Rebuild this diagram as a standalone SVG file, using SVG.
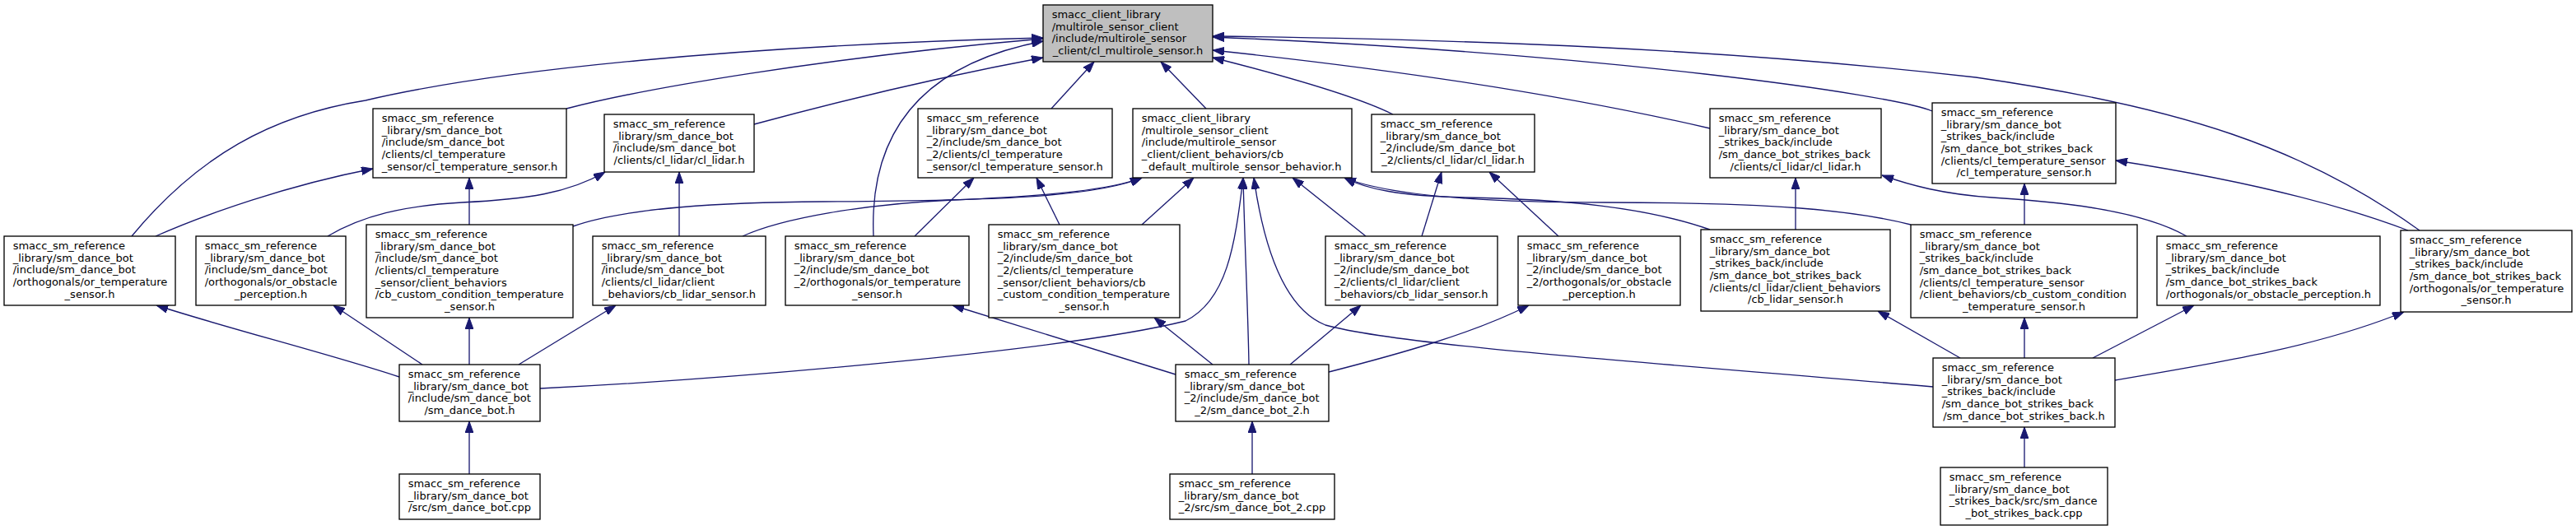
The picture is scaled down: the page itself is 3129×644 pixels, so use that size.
<svg xmlns="http://www.w3.org/2000/svg" width="3129" height="644" viewBox="0 0 3129 644">
<style>
.n rect{fill:#fff;stroke:#000;stroke-width:1.33}
.root rect{fill:#bfbfbf}
text{font-family:"DejaVu Sans","Liberation Sans",sans-serif;font-size:13px;fill:#000}
.c{text-anchor:middle}
#edges path{fill:none;stroke:#191970;stroke-width:1.33;marker-end:url(#a)}
</style>
<defs>
<marker id="a" markerUnits="userSpaceOnUse" markerWidth="14" markerHeight="10" viewBox="0 0 14 10" refX="14" refY="5" orient="auto">
<path d="M0,0 L14,5 L0,10 z" fill="#191970" stroke="#191970" stroke-width="1"/>
</marker>
</defs>
<rect width="3129" height="644" fill="#fff"/>
<g id="edges">
<path d="M160,287 C240,190 330,140 444,122 C600,85 900,55 1267,46"/>
<path d="M688,132 C780,108 1000,70 1267,47"/>
<path d="M1061,287 C1056,170 1110,80 1267,50"/>
<path d="M916,151 C1030,120 1150,92 1267,70"/>
<path d="M1277,132 L1329,75"/>
<path d="M1465,132 L1410,75"/>
<path d="M1692,139 C1650,118 1560,92 1473,70"/>
<path d="M2077,156 C1900,115 1700,85 1473,61"/>
<path d="M2347,135 C2300,115 1950,65 1473,45"/>
<path d="M2939,280 C2800,180 2650,130 2400,94 C2100,60 1800,48 1473,44"/>
<path d="M570,273 L570,216"/>
<path d="M189,287 C250,260 350,225 453,205"/>
<path d="M398,287 C440,262 490,250 561,246 C640,242 690,235 735,209"/>
<path d="M825,287 L825,209"/>
<path d="M1111,287 L1183,216"/>
<path d="M1287,273 L1259,216"/>
<path d="M696,275 C760,252 880,246 1000,245 C1200,244 1330,240 1387,216"/>
<path d="M902,287 C950,265 1050,248 1157,243 C1280,238 1350,230 1387,216"/>
<path d="M1387,273 L1450,216"/>
<path d="M656,472 C900,460 1300,425 1440,390 C1490,365 1500,300 1510,216"/>
<path d="M1517,443 C1516,380 1512,300 1510,216"/>
<path d="M2348,470 C2000,440 1700,420 1610,395 C1560,375 1535,300 1523,216"/>
<path d="M1659,287 L1570,216"/>
<path d="M2077,279 C2000,252 1900,242 1780,240 C1700,238 1660,230 1633,216"/>
<path d="M2321,273 C2250,255 2150,246 1950,246 C1780,246 1680,235 1633,216"/>
<path d="M1727,287 L1751,209"/>
<path d="M1893,287 L1809,209"/>
<path d="M2181,279 L2181,216"/>
<path d="M2656,287 C2600,255 2500,245 2420,240 C2360,236 2320,225 2286,213"/>
<path d="M2459,273 L2459,223"/>
<path d="M2925,280 C2820,240 2680,212 2570,195"/>
<path d="M485,458 C400,430 280,400 190,371"/>
<path d="M513,443 L405,371"/>
<path d="M570,443 L570,386"/>
<path d="M630,443 L748,371"/>
<path d="M570,576 L570,512"/>
<path d="M1428,455 L1157,371"/>
<path d="M1473,443 L1402,386"/>
<path d="M1567,443 L1653,371"/>
<path d="M1614,452 C1700,430 1790,405 1857,371"/>
<path d="M1521,576 L1521,512"/>
<path d="M2381,435 L2281,378"/>
<path d="M2459,435 L2459,386"/>
<path d="M2542,435 L2665,371"/>
<path d="M2569,462 C2700,440 2820,420 2920,379"/>
<path d="M2459,568 L2459,519"/>
</g>
<g id="root" class="n root"><rect x="1267" y="6" width="206" height="69"/><text y="22"><tspan x="1277.7">smacc_client_library</tspan><tspan x="1277.7" dy="14.67">/multirole_sensor_client</tspan><tspan x="1277.7" dy="14.67">/include/multirole_sensor</tspan><tspan x="1370" dy="14.67" class="c">_client/cl_multirole_sensor.h</tspan></text></g>
<g id="nA" class="n"><rect x="453" y="132" width="235" height="84"/><text y="148"><tspan x="463.7">smacc_sm_reference</tspan><tspan x="463.7" dy="14.67">_library/sm_dance_bot</tspan><tspan x="463.7" dy="14.67">/include/sm_dance_bot</tspan><tspan x="463.7" dy="14.67">/clients/cl_temperature</tspan><tspan x="570.5" dy="14.67" class="c">_sensor/cl_temperature_sensor.h</tspan></text></g>
<g id="nB" class="n"><rect x="734" y="139" width="182" height="70"/><text y="155"><tspan x="744.7">smacc_sm_reference</tspan><tspan x="744.7" dy="14.67">_library/sm_dance_bot</tspan><tspan x="744.7" dy="14.67">/include/sm_dance_bot</tspan><tspan x="825" dy="14.67" class="c">/clients/cl_lidar/cl_lidar.h</tspan></text></g>
<g id="nC" class="n"><rect x="1115" y="132" width="236" height="84"/><text y="148"><tspan x="1125.7">smacc_sm_reference</tspan><tspan x="1125.7" dy="14.67">_library/sm_dance_bot</tspan><tspan x="1125.7" dy="14.67">_2/include/sm_dance_bot</tspan><tspan x="1125.7" dy="14.67">_2/clients/cl_temperature</tspan><tspan x="1233" dy="14.67" class="c">_sensor/cl_temperature_sensor.h</tspan></text></g>
<g id="nD" class="n"><rect x="1376" y="132" width="266" height="84"/><text y="148"><tspan x="1386.7">smacc_client_library</tspan><tspan x="1386.7" dy="14.67">/multirole_sensor_client</tspan><tspan x="1386.7" dy="14.67">/include/multirole_sensor</tspan><tspan x="1386.7" dy="14.67">_client/client_behaviors/cb</tspan><tspan x="1509" dy="14.67" class="c">_default_multirole_sensor_behavior.h</tspan></text></g>
<g id="nE" class="n"><rect x="1666" y="139" width="198" height="70"/><text y="155"><tspan x="1676.7">smacc_sm_reference</tspan><tspan x="1676.7" dy="14.67">_library/sm_dance_bot</tspan><tspan x="1676.7" dy="14.67">_2/include/sm_dance_bot</tspan><tspan x="1765" dy="14.67" class="c">_2/clients/cl_lidar/cl_lidar.h</tspan></text></g>
<g id="nF" class="n"><rect x="2077" y="132" width="208" height="84"/><text y="148"><tspan x="2087.7">smacc_sm_reference</tspan><tspan x="2087.7" dy="14.67">_library/sm_dance_bot</tspan><tspan x="2087.7" dy="14.67">_strikes_back/include</tspan><tspan x="2087.7" dy="14.67">/sm_dance_bot_strikes_back</tspan><tspan x="2181" dy="14.67" class="c">/clients/cl_lidar/cl_lidar.h</tspan></text></g>
<g id="nG" class="n"><rect x="2347" y="125" width="223" height="98"/><text y="141"><tspan x="2357.7">smacc_sm_reference</tspan><tspan x="2357.7" dy="14.67">_library/sm_dance_bot</tspan><tspan x="2357.7" dy="14.67">_strikes_back/include</tspan><tspan x="2357.7" dy="14.67">/sm_dance_bot_strikes_back</tspan><tspan x="2357.7" dy="14.67">/clients/cl_temperature_sensor</tspan><tspan x="2458.5" dy="14.67" class="c">/cl_temperature_sensor.h</tspan></text></g>
<g id="nH" class="n"><rect x="5" y="287" width="208" height="84"/><text y="303"><tspan x="15.7">smacc_sm_reference</tspan><tspan x="15.7" dy="14.67">_library/sm_dance_bot</tspan><tspan x="15.7" dy="14.67">/include/sm_dance_bot</tspan><tspan x="15.7" dy="14.67">/orthogonals/or_temperature</tspan><tspan x="109" dy="14.67" class="c">_sensor.h</tspan></text></g>
<g id="nI" class="n"><rect x="238" y="287" width="182" height="84"/><text y="303"><tspan x="248.7">smacc_sm_reference</tspan><tspan x="248.7" dy="14.67">_library/sm_dance_bot</tspan><tspan x="248.7" dy="14.67">/include/sm_dance_bot</tspan><tspan x="248.7" dy="14.67">/orthogonals/or_obstacle</tspan><tspan x="329" dy="14.67" class="c">_perception.h</tspan></text></g>
<g id="nJ" class="n"><rect x="445" y="273" width="251" height="113"/><text y="289"><tspan x="455.7">smacc_sm_reference</tspan><tspan x="455.7" dy="14.67">_library/sm_dance_bot</tspan><tspan x="455.7" dy="14.67">/include/sm_dance_bot</tspan><tspan x="455.7" dy="14.67">/clients/cl_temperature</tspan><tspan x="455.7" dy="14.67">_sensor/client_behaviors</tspan><tspan x="455.7" dy="14.67">/cb_custom_condition_temperature</tspan><tspan x="570.5" dy="14.67" class="c">_sensor.h</tspan></text></g>
<g id="nK" class="n"><rect x="720" y="287" width="210" height="84"/><text y="303"><tspan x="730.7">smacc_sm_reference</tspan><tspan x="730.7" dy="14.67">_library/sm_dance_bot</tspan><tspan x="730.7" dy="14.67">/include/sm_dance_bot</tspan><tspan x="730.7" dy="14.67">/clients/cl_lidar/client</tspan><tspan x="825" dy="14.67" class="c">_behaviors/cb_lidar_sensor.h</tspan></text></g>
<g id="nL" class="n"><rect x="954" y="287" width="223" height="84"/><text y="303"><tspan x="964.7">smacc_sm_reference</tspan><tspan x="964.7" dy="14.67">_library/sm_dance_bot</tspan><tspan x="964.7" dy="14.67">_2/include/sm_dance_bot</tspan><tspan x="964.7" dy="14.67">_2/orthogonals/or_temperature</tspan><tspan x="1065.5" dy="14.67" class="c">_sensor.h</tspan></text></g>
<g id="nM" class="n"><rect x="1201" y="273" width="232" height="113"/><text y="289"><tspan x="1211.7">smacc_sm_reference</tspan><tspan x="1211.7" dy="14.67">_library/sm_dance_bot</tspan><tspan x="1211.7" dy="14.67">_2/include/sm_dance_bot</tspan><tspan x="1211.7" dy="14.67">_2/clients/cl_temperature</tspan><tspan x="1211.7" dy="14.67">_sensor/client_behaviors/cb</tspan><tspan x="1211.7" dy="14.67">_custom_condition_temperature</tspan><tspan x="1317" dy="14.67" class="c">_sensor.h</tspan></text></g>
<g id="nN" class="n"><rect x="1610" y="287" width="209" height="84"/><text y="303"><tspan x="1620.7">smacc_sm_reference</tspan><tspan x="1620.7" dy="14.67">_library/sm_dance_bot</tspan><tspan x="1620.7" dy="14.67">_2/include/sm_dance_bot</tspan><tspan x="1620.7" dy="14.67">_2/clients/cl_lidar/client</tspan><tspan x="1714.5" dy="14.67" class="c">_behaviors/cb_lidar_sensor.h</tspan></text></g>
<g id="nO" class="n"><rect x="1844" y="287" width="197" height="84"/><text y="303"><tspan x="1854.7">smacc_sm_reference</tspan><tspan x="1854.7" dy="14.67">_library/sm_dance_bot</tspan><tspan x="1854.7" dy="14.67">_2/include/sm_dance_bot</tspan><tspan x="1854.7" dy="14.67">_2/orthogonals/or_obstacle</tspan><tspan x="1942.5" dy="14.67" class="c">_perception.h</tspan></text></g>
<g id="nP" class="n"><rect x="2066" y="279" width="230" height="99"/><text y="295"><tspan x="2076.7">smacc_sm_reference</tspan><tspan x="2076.7" dy="14.67">_library/sm_dance_bot</tspan><tspan x="2076.7" dy="14.67">_strikes_back/include</tspan><tspan x="2076.7" dy="14.67">/sm_dance_bot_strikes_back</tspan><tspan x="2076.7" dy="14.67">/clients/cl_lidar/client_behaviors</tspan><tspan x="2181" dy="14.67" class="c">/cb_lidar_sensor.h</tspan></text></g>
<g id="nQ" class="n"><rect x="2321" y="273" width="275" height="113"/><text y="289"><tspan x="2331.7">smacc_sm_reference</tspan><tspan x="2331.7" dy="14.67">_library/sm_dance_bot</tspan><tspan x="2331.7" dy="14.67">_strikes_back/include</tspan><tspan x="2331.7" dy="14.67">/sm_dance_bot_strikes_back</tspan><tspan x="2331.7" dy="14.67">/clients/cl_temperature_sensor</tspan><tspan x="2331.7" dy="14.67">/client_behaviors/cb_custom_condition</tspan><tspan x="2458.5" dy="14.67" class="c">_temperature_sensor.h</tspan></text></g>
<g id="nR" class="n"><rect x="2620" y="287" width="271" height="84"/><text y="303"><tspan x="2630.7">smacc_sm_reference</tspan><tspan x="2630.7" dy="14.67">_library/sm_dance_bot</tspan><tspan x="2630.7" dy="14.67">_strikes_back/include</tspan><tspan x="2630.7" dy="14.67">/sm_dance_bot_strikes_back</tspan><tspan x="2755.5" dy="14.67" class="c">/orthogonals/or_obstacle_perception.h</tspan></text></g>
<g id="nS" class="n"><rect x="2916" y="280" width="208" height="99"/><text y="296"><tspan x="2926.7">smacc_sm_reference</tspan><tspan x="2926.7" dy="14.67">_library/sm_dance_bot</tspan><tspan x="2926.7" dy="14.67">_strikes_back/include</tspan><tspan x="2926.7" dy="14.67">/sm_dance_bot_strikes_back</tspan><tspan x="2926.7" dy="14.67">/orthogonals/or_temperature</tspan><tspan x="3020" dy="14.67" class="c">_sensor.h</tspan></text></g>
<g id="nT" class="n"><rect x="485" y="443" width="171" height="69"/><text y="459"><tspan x="495.7">smacc_sm_reference</tspan><tspan x="495.7" dy="14.67">_library/sm_dance_bot</tspan><tspan x="495.7" dy="14.67">/include/sm_dance_bot</tspan><tspan x="570.5" dy="14.67" class="c">/sm_dance_bot.h</tspan></text></g>
<g id="nU" class="n"><rect x="1428" y="443" width="186" height="69"/><text y="459"><tspan x="1438.7">smacc_sm_reference</tspan><tspan x="1438.7" dy="14.67">_library/sm_dance_bot</tspan><tspan x="1438.7" dy="14.67">_2/include/sm_dance_bot</tspan><tspan x="1521" dy="14.67" class="c">_2/sm_dance_bot_2.h</tspan></text></g>
<g id="nV" class="n"><rect x="2348" y="435" width="221" height="84"/><text y="451"><tspan x="2358.7">smacc_sm_reference</tspan><tspan x="2358.7" dy="14.67">_library/sm_dance_bot</tspan><tspan x="2358.7" dy="14.67">_strikes_back/include</tspan><tspan x="2358.7" dy="14.67">/sm_dance_bot_strikes_back</tspan><tspan x="2458.5" dy="14.67" class="c">/sm_dance_bot_strikes_back.h</tspan></text></g>
<g id="nW" class="n"><rect x="485" y="576" width="171" height="55"/><text y="592"><tspan x="495.7">smacc_sm_reference</tspan><tspan x="495.7" dy="14.67">_library/sm_dance_bot</tspan><tspan x="570.5" dy="14.67" class="c">/src/sm_dance_bot.cpp</tspan></text></g>
<g id="nX" class="n"><rect x="1421" y="576" width="200" height="55"/><text y="592"><tspan x="1431.7">smacc_sm_reference</tspan><tspan x="1431.7" dy="14.67">_library/sm_dance_bot</tspan><tspan x="1521" dy="14.67" class="c">_2/src/sm_dance_bot_2.cpp</tspan></text></g>
<g id="nY" class="n"><rect x="2357" y="568" width="203" height="70"/><text y="584"><tspan x="2367.7">smacc_sm_reference</tspan><tspan x="2367.7" dy="14.67">_library/sm_dance_bot</tspan><tspan x="2367.7" dy="14.67">_strikes_back/src/sm_dance</tspan><tspan x="2458.5" dy="14.67" class="c">_bot_strikes_back.cpp</tspan></text></g>
</svg>
